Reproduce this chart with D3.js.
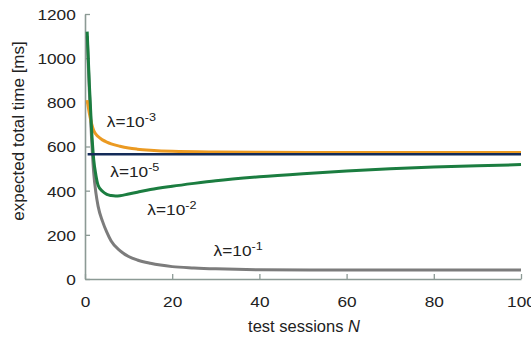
<!DOCTYPE html>
<html>
<head>
<meta charset="utf-8">
<script src="https://cdn.jsdelivr.net/npm/d3@7"></script>
<style>
  body { margin: 0; background: #fff; }
  svg text { font-family: "Liberation Sans", Arial, sans-serif; fill: #222; }
</style>
</head>
<body>
<svg id="chart" width="531" height="339"></svg>
<script>
// sessions N and expected total time [ms] per lambda
var nOrange = [0.5, 1, 1.5, 2, 3, 4, 5, 6, 8, 10, 12, 15, 20, 30, 40, 60, 80, 100];
var tOrange = [810, 750, 705, 672, 645, 630, 620, 612, 601, 593, 588, 583, 578, 575, 574, 573, 573, 573];

var nNavy = [0.6, 100];
var tNavy = [565, 565];

var nGreen = [0.5, 1, 1.5, 2, 2.5, 3, 4, 5, 6, 7, 8, 10, 12, 15, 20, 25, 30, 40, 50, 60, 70, 80, 90, 100];
var tGreen = [1120, 880, 680, 540, 470, 425, 397, 383, 378, 376, 377, 385, 393, 405, 420, 433, 445, 463, 477, 489, 499, 507, 513, 518];

var nGray = [0.5, 1, 1.5, 2, 2.5, 3, 4, 5, 6, 8, 10, 12, 15, 20, 25, 30, 40, 60, 80, 100];
var tGray = [1100, 850, 640, 480, 390, 330, 262, 212, 172, 128, 102, 86, 71, 56, 50, 46, 42, 41, 41, 41];

var xTicks = [0, 20, 40, 60, 80, 100];
var yTicks = [0, 200, 400, 600, 800, 1000, 1200];

var labels = [
  { txt: "λ=10", sup: "-3", n: 5, t: 690 },
  { txt: "λ=10", sup: "-5", n: 5.8, t: 460 },
  { txt: "λ=10", sup: "-2", n: 14.3, t: 290 },
  { txt: "λ=10", sup: "-1", n: 29.5, t: 105 }
];

const svg = d3.select("#chart");
const x = d3.scaleLinear().domain([0, 100]).range([85, 521]);
const y = d3.scaleLinear().domain([0, 1200]).range([279, 14]);
const axisColor = "#8c9a95";
const stretch = 1.15; // the reference type is a bit wider than Arial

// axes, ticks pointing inward
const gx = svg.append("g").attr("transform", "translate(0,279)")
  .call(d3.axisBottom(x).tickValues(xTicks).tickFormat(d3.format("d"))
    .tickSizeInner(-5).tickSizeOuter(0).tickPadding(17));
const gy = svg.append("g").attr("transform", "translate(85,0)")
  .call(d3.axisLeft(y).tickValues(yTicks).tickFormat(d3.format("d"))
    .tickSizeInner(-5).tickSizeOuter(0).tickPadding(8));
[gx, gy].forEach(g => {
  g.select(".domain").attr("stroke", axisColor).attr("stroke-width", 1.6);
  g.selectAll(".tick line").attr("stroke", axisColor).attr("stroke-width", 1.3);
  g.selectAll(".tick text").attr("font-size", 15).attr("fill", "#222")
    .attr("font-family", "'Liberation Sans', Arial, sans-serif")
    .attr("transform", `scale(${stretch},1)`);
});
gy.selectAll(".tick text").attr("dy", "0.36em");

const line = d3.line().x(d => x(d[0])).y(d => y(d[1])).curve(d3.curveMonotoneX);

function series(ns, ts, color, w) {
  svg.append("path")
    .datum(d3.zip(ns, ts))
    .attr("d", line)
    .attr("fill", "none")
    .attr("stroke", color)
    .attr("stroke-width", w);
}

series(nGray, tGray, "#7c7c7c", 3);
series(nOrange, tOrange, "#eb9a22", 3);
series(nGreen, tGreen, "#1b7d40", 3);
series(nNavy, tNavy, "#132b58", 2.6);

labels.forEach(l => {
  const t = svg.append("text")
    .attr("transform", `translate(${x(l.n)},${y(l.t)}) scale(${stretch},1)`)
    .attr("font-size", 15);
  t.append("tspan").text(l.txt);
  t.append("tspan").attr("dy", -6).attr("font-size", 11).text(l.sup);
});

svg.append("text")
  .attr("transform", "translate(24,131) rotate(-90)")
  .attr("text-anchor", "middle").attr("font-size", 17)
  .text("expected total time [ms]");

const xt = svg.append("text").attr("x", 304).attr("y", 332)
  .attr("text-anchor", "middle").attr("font-size", 16.5);
xt.append("tspan").text("test sessions ");
xt.append("tspan").attr("font-style", "italic").text("N");
</script>
</body>
</html>
